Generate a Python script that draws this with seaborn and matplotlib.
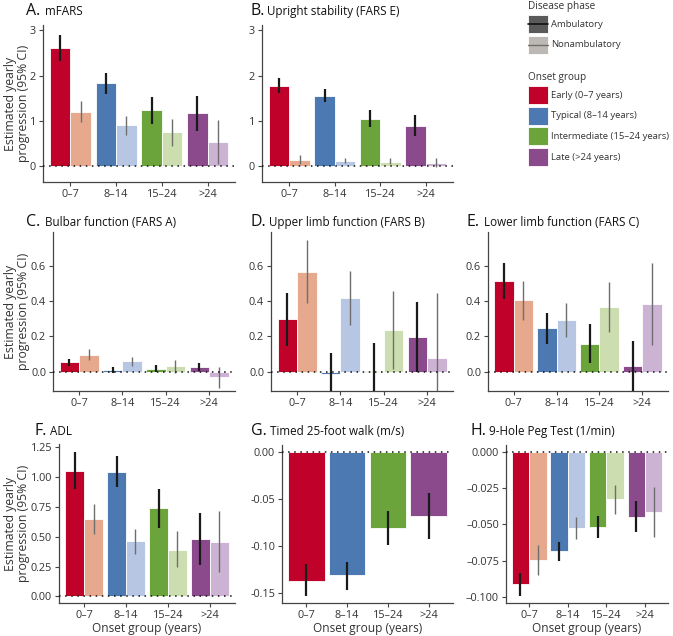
import numpy as np
import pandas as pd
import matplotlib
matplotlib.use("Agg")
import matplotlib.pyplot as plt
import seaborn as sns
from matplotlib.patches import Patch, Rectangle
from matplotlib.lines import Line2D
from matplotlib.legend_handler import HandlerPatch
from matplotlib.ticker import FuncFormatter

# categories
onset = ["0–7", "8–14", "15–24", ">24"]
phases = ["Ambulatory", "Nonambulatory"]
onset_names = ["Early (0–7 years)", "Typical (8–14 years)",
               "Intermediate (15–24 years)", "Late (>24 years)"]
dark_cols = ["#C0022B", "#4D79B2", "#6BA43A", "#8A4A8C"]
light_cols = ["#E6A98E", "#B7C7E3", "#CCDDB0", "#CDB3D3"]

# A. mFARS
mfars_amb = [2.61, 1.83, 1.24, 1.17]
mfars_amb_lo = [2.33, 1.59, 0.93, 0.78]
mfars_amb_hi = [2.90, 2.07, 1.53, 1.56]
mfars_non = [1.20, 0.90, 0.75, 0.53]
mfars_non_lo = [0.98, 0.68, 0.44, 0.04]
mfars_non_hi = [1.44, 1.10, 1.04, 1.01]

# B. Upright stability
fe_amb = [1.77, 1.56, 1.05, 0.89]
fe_amb_lo = [1.61, 1.42, 0.87, 0.66]
fe_amb_hi = [1.94, 1.71, 1.24, 1.13]
fe_non = [0.14, 0.12, 0.10, 0.075]
fe_non_lo = [0.05, 0.07, 0.04, -0.02]
fe_non_hi = [0.24, 0.18, 0.17, 0.18]

# C. Bulbar
fa_amb = [0.053, 0.008, 0.017, 0.028]
fa_amb_lo = [0.032, -0.009, -0.004, 0.006]
fa_amb_hi = [0.072, 0.025, 0.038, 0.051]
fa_non = [0.094, 0.058, 0.032, -0.032]
fa_non_lo = [0.066, 0.032, -0.006, -0.094]
fa_non_hi = [0.126, 0.083, 0.066, 0.028]

# D. Upper limb
fb_amb = [0.296, -0.013, 0.006, 0.194]
fb_amb_lo = [0.145, -0.13, -0.15, -0.004]
fb_amb_hi = [0.443, 0.104, 0.164, 0.396]
fb_non = [0.564, 0.417, 0.236, 0.075]
fb_non_lo = [0.387, 0.264, 0.013, -0.29]
fb_non_hi = [0.742, 0.570, 0.458, 0.443]

# E. Lower limb
fc_amb = [0.513, 0.247, 0.158, 0.030]
fc_amb_lo = [0.409, 0.157, 0.047, -0.12]
fc_amb_hi = [0.617, 0.334, 0.270, 0.174]
fc_non = [0.406, 0.292, 0.366, 0.381]
fc_non_lo = [0.292, 0.194, 0.225, 0.151]
fc_non_hi = [0.515, 0.387, 0.508, 0.613]

# F. ADL
adl_amb = [1.054, 1.040, 0.737, 0.482]
adl_amb_lo = [0.900, 0.916, 0.575, 0.266]
adl_amb_hi = [1.208, 1.174, 0.900, 0.695]
adl_non = [0.647, 0.465, 0.392, 0.457]
adl_non_lo = [0.527, 0.359, 0.247, 0.205]
adl_non_hi = [0.774, 0.569, 0.547, 0.717]

# G. Timed 25-foot walk (ambulatory only)
walk_amb = [-0.1368, -0.1311, -0.0812, -0.0681]
walk_amb_lo = [-0.1536, -0.1464, -0.0994, -0.0930]
walk_amb_hi = [-0.1197, -0.1169, -0.0627, -0.0431]

# H. 9-Hole Peg Test
peg_amb = [-0.0915, -0.0686, -0.0517, -0.0446]
peg_amb_lo = [-0.0995, -0.0751, -0.0596, -0.0554]
peg_amb_hi = [-0.0838, -0.0624, -0.0439, -0.0337]
peg_non = [-0.0746, -0.0522, -0.0326, -0.0411]
peg_non_lo = [-0.0848, -0.0603, -0.0430, -0.0584]
peg_non_hi = [-0.0642, -0.0446, -0.0226, -0.0238]

sns.set_style("ticks")
plt.rcParams["font.family"] = ["Open Sans", "DejaVu Sans"]
TXT = "#333333"
SP = "#444444"

W, H = 673, 636
fig = plt.figure(figsize=(W / 100, H / 100), dpi=100)


def box(l, t, r, b):
    return [l / W, 1 - b / H, (r - l) / W, (b - t) / H]


def panel(rect, amb, amb_lo, amb_hi, non, non_lo, non_hi, ylim, yticks, fmt,
          letter, title, lxy, tx, ylabel=False, xlabel=False):
    ax = fig.add_axes(box(*rect))
    rows = [dict(onset=o, phase="Ambulatory", value=v) for o, v in zip(onset, amb)]
    hue_order = ["Ambulatory"]
    if non is not None:
        rows += [dict(onset=o, phase="Nonambulatory", value=v) for o, v in zip(onset, non)]
        hue_order = phases
    df = pd.DataFrame(rows)
    sns.barplot(data=df, x="onset", y="value", hue="phase", order=onset,
                hue_order=hue_order, palette=["#555555", "#bbbbbb"][:len(hue_order)],
                width=0.9, errorbar=None, legend=False, saturation=1,
                edgecolor="white", linewidth=0.6, ax=ax)
    bars = ax.patches
    for i, p in enumerate(bars[:4]):
        p.set_facecolor(dark_cols[i])
        xc = p.get_x() + p.get_width() / 2
        ax.vlines(xc, amb_lo[i], amb_hi[i], color="#1a1a1a", lw=1.6, zorder=4)
    if non is not None:
        for i, p in enumerate(bars[4:8]):
            p.set_facecolor(light_cols[i])
            xc = p.get_x() + p.get_width() / 2
            ax.vlines(xc, non_lo[i], non_hi[i], color="#6e6e6e", lw=1.0, zorder=4)
    ax.axhline(0, color="#111111", lw=1.1, ls=(0, (1, 3)), zorder=5)
    ax.set_xlim(-0.6, 3.6)
    ax.set_ylim(*ylim)
    ax.set_yticks(yticks)
    ax.yaxis.set_major_formatter(FuncFormatter(fmt))
    ax.set_xlabel("")
    ax.set_ylabel("")
    sns.despine(ax=ax)
    for s in ["left", "bottom"]:
        ax.spines[s].set_color(SP)
        ax.spines[s].set_linewidth(0.9)
    ax.tick_params(length=3, width=0.8, color=SP, labelsize=7.8,
                   labelcolor=TXT, pad=2)
    fig.text(lxy[0] / W, 1 - lxy[1] / H, letter, fontsize=11.5, color="#111111",
             va="baseline", ha="left")
    fig.text(tx / W, 1 - lxy[1] / H, title, fontsize=8.4, color="#111111",
             va="baseline", ha="left")
    if ylabel:
        yc = 1 - (rect[1] + rect[3]) / 2 / H
        fig.text(17 / W, yc, "Estimated yearly\nprogression (95% CI)",
                 rotation=90, fontsize=8.8, color=TXT, ha="center", va="center",
                 linespacing=1.0)
    if xlabel:
        ax.set_xlabel("Onset group (years)", fontsize=8.6, color=TXT, labelpad=1)
    return ax


f_int = lambda v, p: f"{v:.0f}"
f_1 = lambda v, p: f"{v:.1f}"
f_2 = lambda v, p: f"{v:.2f}"
f_2m = lambda v, p: f"{v:.2f}"
f_3m = lambda v, p: f"{v:.3f}".replace("-", "–")

panel((43, 25, 235, 182), mfars_amb, mfars_amb_lo, mfars_amb_hi,
      mfars_non, mfars_non_lo, mfars_non_hi, (-0.35, 3.12), [0, 1, 2, 3], f_int,
      "A.", "mFARS", (26, 15), 45, ylabel=True)
panel((262, 25, 453, 182), fe_amb, fe_amb_lo, fe_amb_hi,
      fe_non, fe_non_lo, fe_non_hi, (-0.35, 3.12), [0, 1, 2, 3], f_int,
      "B.", "Upright stability (FARS E)", (250, 15), 267)
panel((53, 232, 235, 391), fa_amb, fa_amb_lo, fa_amb_hi,
      fa_non, fa_non_lo, fa_non_hi, (-0.11, 0.79), [0, 0.2, 0.4, 0.6], f_1,
      "C.", "Bulbar function (FARS A)", (26, 226), 45, ylabel=True)
panel((271, 232, 453, 391), fb_amb, fb_amb_lo, fb_amb_hi,
      fb_non, fb_non_lo, fb_non_hi, (-0.11, 0.79), [0, 0.2, 0.4, 0.6], f_1,
      "D.", "Upper limb function (FARS B)", (250, 226), 269)
panel((488, 232, 668, 391), fc_amb, fc_amb_lo, fc_amb_hi,
      fc_non, fc_non_lo, fc_non_hi, (-0.11, 0.79), [0, 0.2, 0.4, 0.6], f_1,
      "E.", "Lower limb function (FARS C)", (466, 226), 484)
panel((59, 444, 235, 603), adl_amb, adl_amb_lo, adl_amb_hi,
      adl_non, adl_non_lo, adl_non_hi, (-0.056, 1.278),
      [0, 0.25, 0.5, 0.75, 1.0, 1.25], f_2,
      "F.", "ADL", (34, 435), 50, ylabel=True, xlabel=True)
panel((282, 445, 453, 603), walk_amb, walk_amb_lo, walk_amb_hi,
      None, None, None, (-0.1608, 0.0078), [0, -0.05, -0.10, -0.15], f_2m,
      "G.", "Timed 25-foot walk (m/s)", (251, 435), 270, xlabel=True)
panel((506, 445, 668, 603), peg_amb, peg_amb_lo, peg_amb_hi,
      peg_non, peg_non_lo, peg_non_hi, (-0.1044, 0.005),
      [0, -0.025, -0.05, -0.075, -0.1], f_3m,
      "H.", "9-Hole Peg Test (1/min)", (470, 435), 489, xlabel=True)


class PatchWithLine(HandlerPatch):
    def __init__(self, line_color, line_width):
        super().__init__()
        self.lc = line_color
        self.lw = line_width

    def create_artists(self, legend, orig_handle, xdescent, ydescent, width,
                       height, fontsize, trans):
        r = Rectangle((-xdescent, -ydescent), width, height,
                      facecolor=orig_handle.get_facecolor(), edgecolor="white",
                      lw=0.6, transform=trans)
        y = -ydescent + height / 2
        ln = Line2D([-xdescent, -xdescent + width], [y, y], color=self.lc,
                    lw=self.lw, transform=trans)
        return [r, ln]


legend_kw = dict(loc="upper left", frameon=False, fontsize=6.8, title_fontsize=7.2,
                 handlelength=2.1, handleheight=2.55, labelspacing=0.3,
                 handletextpad=0.3, borderpad=0.0, borderaxespad=0.0,
                 alignment="left")

amb_patch = Patch(facecolor="#5a5a5a")
non_patch = Patch(facecolor="#bcb8b4")
leg1 = fig.legend([amb_patch, non_patch], phases, title="Disease phase",
                  bbox_to_anchor=(528 / W, 1 - 1 / H),
                  handler_map={amb_patch: PatchWithLine("#111111", 1.2),
                               non_patch: PatchWithLine("#6e6e6e", 1.0)},
                  **legend_kw)

onset_handles = [Patch(facecolor=c, edgecolor="white", lw=0.6) for c in dark_cols]
leg2 = fig.legend(onset_handles, onset_names, title="Onset group",
                  bbox_to_anchor=(528 / W, 1 - 72 / H), **legend_kw)
for leg in (leg1, leg2):
    for t in leg.get_texts():
        t.set_color(TXT)
    leg.get_title().set_color(TXT)

fig.savefig("out.png", dpi=100)
